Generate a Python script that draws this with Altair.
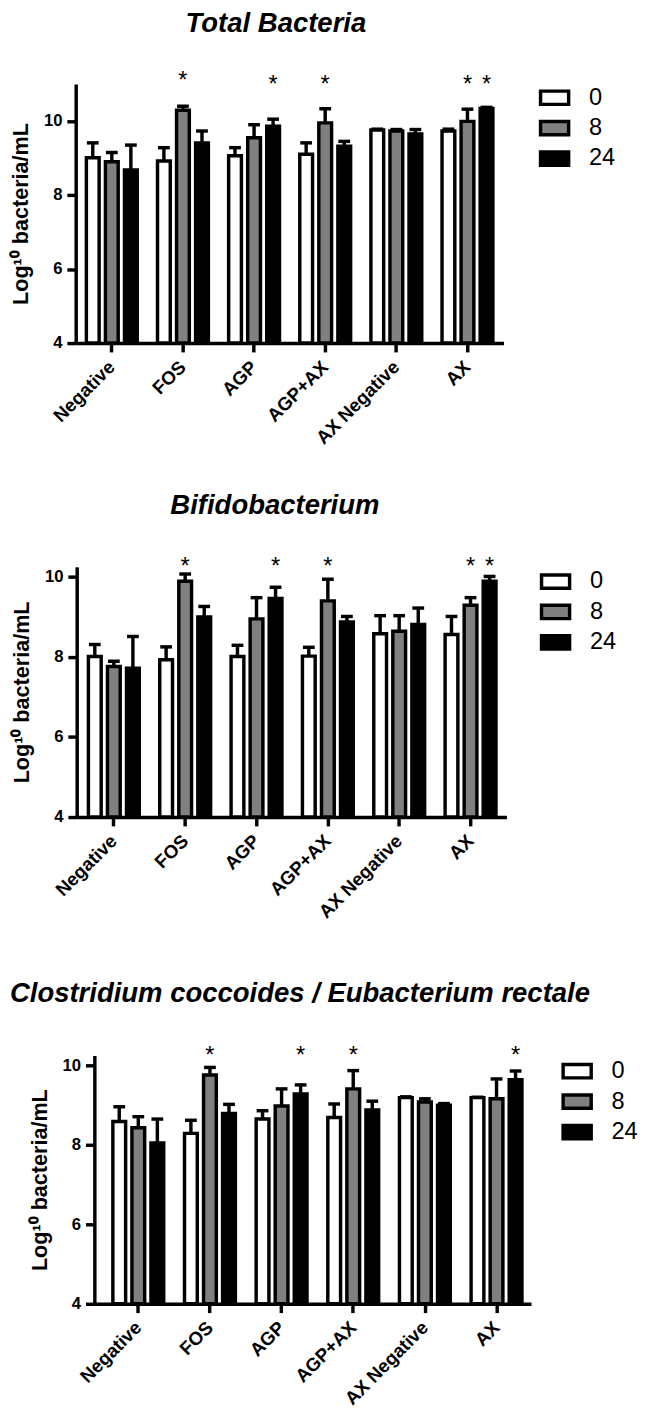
import altair as alt
import pandas as pd

categories = ["Negative", "FOS", "AGP", "AGP+AX", "AX Negative", "AX"]
times = ["0", "8", "24"]
time_colors = ["#ffffff", "#808080", "#000000"]

# Total Bacteria: mean and mean+SD per category (times 0, 8, 24)
total_mean = [[9.01, 8.90, 8.68], [8.92, 10.29, 9.41], [9.06, 9.55, 9.86],
              [9.10, 9.95, 9.32], [9.76, 9.73, 9.65], [9.73, 9.99, 10.34]]
total_err = [[9.41, 9.15, 9.35], [9.28, 10.40, 9.73], [9.28, 9.90, 10.05],
             [9.41, 10.33, 9.45], [9.78, 9.77, 9.77], [9.78, 10.32, 10.37]]
total_star_cat = ["FOS", "AGP", "AGP+AX", "AX", "AX"]
total_star_time = ["8", "24", "8", "8", "24"]
total_star_y = [11.21, 11.09, 11.09, 11.09, 11.09]

# Bifidobacterium
bifido_mean = [[8.01, 7.76, 7.72], [7.93, 9.89, 9.00], [8.01, 8.95, 9.46],
               [8.02, 9.40, 8.87], [8.58, 8.64, 8.81], [8.56, 9.29, 9.89]]
bifido_err = [[8.31, 7.89, 8.51], [8.25, 10.07, 9.26], [8.29, 9.48, 9.74],
              [8.24, 9.94, 9.01], [9.03, 9.03, 9.22], [9.01, 9.48, 10.01]]
bifido_star_cat = ["FOS", "AGP", "AGP+AX", "AX", "AX"]
bifido_star_time = ["8", "24", "8", "8", "24"]
bifido_star_y = [10.37, 10.37, 10.37, 10.37, 10.37]

# Clostridium coccoides / Eubacterium rectale
clost_mean = [[8.59, 8.43, 8.05], [8.29, 9.76, 8.79], [8.65, 8.98, 9.28],
              [8.69, 9.41, 8.88], [9.19, 9.08, 9.00], [9.19, 9.16, 9.64]]
clost_err = [[8.96, 8.71, 8.65], [8.62, 9.95, 9.02], [8.86, 9.41, 9.51],
             [9.03, 9.87, 9.10], [9.21, 9.16, 9.04], [9.20, 9.66, 9.86]]
clost_star_cat = ["FOS", "AGP", "AGP+AX", "AX"]
clost_star_time = ["8", "24", "8", "24"]
clost_star_y = [10.37, 10.37, 10.37, 10.37]

y_ticks = [4, 6, 8, 10]
y_title = "Log\u00b9\u2070 bacteria/mL"
FONT = "Liberation Sans"
LW = 3.5


def panel(title, means, errs, s_cat, s_time, s_y, ymax, width, height,
          pad_outer, align, dx, title_offset, leg_x, leg_y):
    rows = []
    for ci, c in enumerate(categories):
        for ti, t in enumerate(times):
            rows.append({"cat": c, "time": t, "mean": means[ci][ti], "err": errs[ci][ti]})
    df = pd.DataFrame(rows)
    sdf = pd.DataFrame({"cat": s_cat, "time": s_time, "y": s_y})

    xenc = alt.X("cat:N", sort=categories,
                 scale=alt.Scale(paddingInner=0.285, paddingOuter=pad_outer, align=align),
                 axis=alt.Axis(title=None, labelAngle=-45, labelAlign="right",
                               labelBaseline="middle", labelFontSize=19,
                               labelPadding=12))
    xoff = alt.XOffset("time:N", sort=times,
                       scale=alt.Scale(paddingInner=0.33, paddingOuter=0))
    yscale = alt.Scale(domain=[4, ymax], nice=False, zero=False)
    yaxis = alt.Axis(title=y_title, values=y_ticks, labelFontSize=17, labelPadding=5,
                     titleFontSize=22, titlePadding=11)

    base = alt.Chart(df)
    bars = base.mark_bar(stroke="black", strokeWidth=LW).encode(
        x=xenc, xOffset=xoff,
        y=alt.Y("mean:Q", scale=yscale, axis=yaxis),
        y2=alt.datum(4),
        fill=alt.Fill("time:N", sort=times,
                      scale=alt.Scale(domain=times, range=time_colors),
                      legend=alt.Legend(title=None, orient="none", legendX=leg_x, legendY=leg_y,
                                        symbolType="M-1.1,-0.52H1.1V0.52H-1.1Z", symbolSize=676,
                                        symbolStrokeColor="black", symbolStrokeWidth=LW,
                                        symbolOpacity=1, labelFontSize=24, labelFont=FONT,
                                        labelColor="black", labelOffset=20, rowPadding=2,
                                        padding=0)),
    )
    rules = base.mark_rule(color="black", strokeWidth=LW).encode(
        x=xenc, xOffset=xoff,
        y=alt.Y("mean:Q", scale=yscale, axis=yaxis), y2="err:Q")
    caps = base.mark_tick(color="black", thickness=LW, size=12, opacity=1).encode(
        x=xenc, xOffset=xoff, y=alt.Y("err:Q", scale=yscale, axis=yaxis))
    stars = alt.Chart(sdf).mark_text(text="*", fontSize=24, font=FONT, color="black",
                                     baseline="middle", dy=5).encode(
        x=xenc, xOffset=xoff, y=alt.Y("y:Q", scale=yscale, axis=yaxis))

    return alt.layer(bars, rules, caps, stars).properties(
        width=width, height=height,
        title=alt.TitleParams(title, fontSize=28, fontWeight="bold", fontStyle="italic",
                              font=FONT, color="black", anchor="middle", frame="group",
                              dx=dx, offset=title_offset))


def spacer(w):
    return alt.Chart(pd.DataFrame({"s": [0]})).mark_point(size=1, opacity=0).properties(
        width=w, height=1)


p1 = panel("Total Bacteria", total_mean, total_err, total_star_cat, total_star_time,
           total_star_y, 11, 436, 264, 0.15, 0.5, -14, 32, 473, -1)
p2 = panel("Bifidobacterium", bifido_mean, bifido_err, bifido_star_cat, bifido_star_time,
           bifido_star_y, 10.25, 438, 255, 0.155, 0.53, -17, 36, 473, 0)
p3 = panel("Clostridium coccoides / Eubacterium rectale", clost_mean, clost_err,
           clost_star_cat, clost_star_time, clost_star_y, 10.25, 445, 253,
           0.19, 0.68, -13, 37, 477, 1)

row1 = alt.hconcat(spacer(2), p1, spacing=0).resolve_legend(fill="independent")
row2 = alt.hconcat(spacer(3), p2, spacing=0).resolve_legend(fill="independent")
row3 = alt.hconcat(spacer(1), p3, spacing=0).resolve_legend(fill="independent")

top = alt.vconcat(row1, row2, spacing=45).resolve_legend(fill="independent")

chart = alt.vconcat(top, row3, spacing=59).resolve_legend(fill="independent").properties(
    padding={"left": 0, "top": -11, "right": 0, "bottom": 0}
).configure(font=FONT).configure_view(stroke=None).configure_axis(
    domainColor="black", domainWidth=LW, tickColor="black", tickWidth=LW, tickSize=9,
    labelColor="black", labelFont=FONT, labelFontWeight="bold", grid=False,
    titleFont=FONT, titleFontWeight="bold", titleColor="black", labelOverlap=False
)

chart.save("out.html", embed_options={"renderer": "svg", "actions": False})
